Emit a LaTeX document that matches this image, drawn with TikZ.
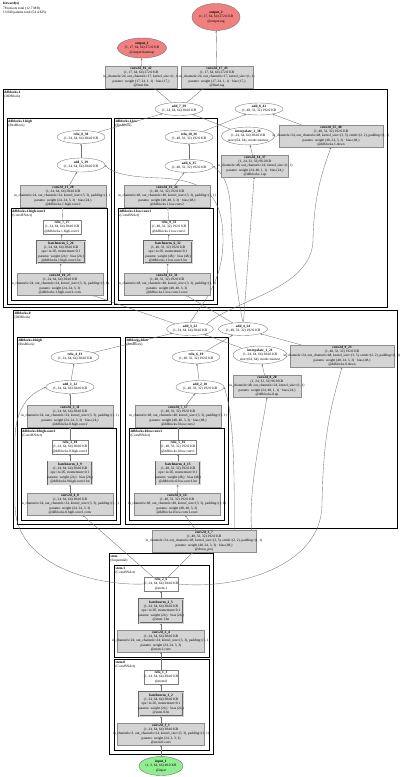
\documentclass[tikz,border=0pt]{standalone}
\usepackage{fontspec}
\setmainfont{Liberation Serif}
\usetikzlibrary{shapes.geometric,arrows.meta}
\definecolor{lcoral}{RGB}{240,128,128}
\definecolor{lgreen}{RGB}{144,238,144}
\pgfdeclarelayer{bg}
\pgfsetlayers{bg,main}
\newcommand\NL[1]{\hbox to 0pt{\hss\strut #1\hss}}
\newcommand\FL[1]{\hbox{\strut #1}}
\newcommand\BX[6]{\node[#1,minimum width=#4,minimum height=#5] (#2) at #3 {\vbox{#6}};}
\newcommand\FR[5]{\draw[#1] #2 rectangle #3; \node[flab,xshift=1.5pt,yshift=-1.2pt] (#4) at #2 {\vbox{#5}};}
\begin{document}
\begin{tikzpicture}[x=1pt,y=-1pt,
 base/.style={font=\fontsize{3.5}{4.2}\selectfont,inner sep=0pt,outer sep=0pt},
 gbox/.style={base,rectangle,draw=black!45,fill=black!17,line width=0.4pt},
 wbox/.style={base,rectangle,draw=black!50,fill=white,line width=0.4pt},
 bnbox/.style={base,rectangle,draw=black!60,fill=black!17,double=black!17,double distance=0.7pt,line width=0.35pt},
 op/.style={base,ellipse,draw=black!50,fill=white,line width=0.4pt},
 outp/.style={op,fill=lcoral,draw=black!55},
 inp/.style={op,fill=lgreen,draw=black!55},
 e/.style={draw=black!55,line width=0.35pt,-{Stealth[length=2.2pt,width=1.8pt]}},
 blk/.style={draw=black,line width=1pt},
 sub/.style={draw=black,line width=0.7pt},
 inn/.style={draw=black,line width=0.55pt},
 flab/.style={base,anchor=north west},
 hdr/.style={base,anchor=north west}]
\useasboundingbox (0,0) rectangle (400,777);

% header
\node[hdr] (hdr) at (3,2) {\vbox{\FL{\textbf{forward(x)}}\FL{78 tensors total (12.7 MB)}\FL{13,940 params total (54.4 KB)}}};

% ---------- frames ----------
\begin{pgfonlayer}{bg}
\FR{blk}{(3,89)}{(387,307)}{f1}{\FL{\textbf{ddblocks.1}}\FL{(DDBlock)}}
\FR{sub}{(7,118)}{(111,304)}{f1h}{\FL{\textbf{ddblocks.1.high}}\FL{(ResBlock)}}
\FR{inn}{(11,208)}{(107,300)}{f1hc}{\FL{\textbf{ddblocks.1.high.conv1}}\FL{(ConvBNAct)}}
\FR{sub}{(114,118)}{(217,304)}{f1l}{\FL{\textbf{ddblocks.1.low}}\FL{(ResBlock)}}
\FR{inn}{(118,208)}{(213,300)}{f1lc}{\FL{\textbf{ddblocks.1.low.conv1}}\FL{(ConvBNAct)}}
\FR{blk}{(13,310)}{(397,528)}{f0}{\FL{\textbf{ddblocks.0}}\FL{(DDBlock)}}
\FR{sub}{(17,337)}{(120,524)}{f0h}{\FL{\textbf{ddblocks.0.high}}\FL{(ResBlock)}}
\FR{inn}{(21,428)}{(116,520)}{f0hc}{\FL{\textbf{ddblocks.0.high.conv1}}\FL{(ConvBNAct)}}
\FR{sub}{(125,337)}{(228,524)}{f0l}{\FL{\textbf{ddblocks.0.low}}\FL{(ResBlock)}}
\FR{inn}{(129,428)}{(224,520)}{f0lc}{\FL{\textbf{ddblocks.0.low.conv1}}\FL{(ConvBNAct)}}
\FR{blk}{(109,553)}{(213,754)}{fs}{\FL{\textbf{stem}}\FL{(Sequential)}}
\FR{sub}{(114,565)}{(209,657)}{fs1}{\FL{\textbf{stem.1}}\FL{(ConvBNAct)}}
\FR{sub}{(114,659)}{(209,750)}{fs0}{\FL{\textbf{stem.0}}\FL{(ConvBNAct)}}
\end{pgfonlayer}

% ---------- top ----------
\BX{outp}{o2}{(216,17)}{48}{27}{\NL{\textbf{output\_2}}\NL{(1, 17, 64, 64) 272.0 KB}\NL{@output.tag}}
\BX{outp}{o1}{(142,48)}{49}{20}{\NL{\textbf{output\_1}}\NL{(1, 17, 64, 64) 272.0 KB}\NL{@output.heatmap}}
\BX{gbox}{c16}{(141,77)}{72}{22}{\NL{\textbf{conv2d\_16\_42}}\NL{(1, 17, 64, 64) 272.0 KB}\NL{in\_channels=24, out\_channels=17, kernel\_size=(1, 1)}\NL{params: weight (17, 24, 1, 1) · bias (17,)}\NL{@final.hm}}
\BX{gbox}{c17}{(217,77)}{72}{22}{\NL{\textbf{conv2d\_17\_43}}\NL{(1, 17, 64, 64) 272.0 KB}\NL{in\_channels=24, out\_channels=17, kernel\_size=(1, 1)}\NL{params: weight (17, 24, 1, 1) · bias (17,)}\NL{@final.tag}}

% ---------- block 1 ----------
\BX{op}{a7}{(179,109)}{48}{13}{\NL{\textbf{add\_7\_39}}\NL{(1, 24, 64, 64) 384.0 KB}}
\BX{op}{a8}{(259,109)}{48}{12}{\NL{\textbf{add\_8\_41}}\NL{(1, 48, 32, 32) 192.0 KB}}
\BX{op}{r8}{(81,137)}{48}{13}{\NL{\textbf{relu\_8\_30}}\NL{(1, 24, 64, 64) 384.0 KB}}
\BX{op}{a5}{(81,165)}{48}{14}{\NL{\textbf{add\_5\_29}}\NL{(1, 24, 64, 64) 384.0 KB}}
\BX{gbox}{c11}{(63,196)}{86}{22}{\NL{\textbf{conv2d\_11\_28}}\NL{(1, 24, 64, 64) 384.0 KB}\NL{in\_channels=24, out\_channels=24, kernel\_size=(3, 3), padding=(1, 1)}\NL{params: weight (24, 24, 3, 3) · bias (24,)}\NL{@ddblocks.1.high.conv2}}
\BX{wbox}{r7}{(62,227)}{38}{14}{\NL{\textbf{relu\_7\_27}}\NL{(1, 24, 64, 64) 384.0 KB}\NL{@ddblocks.1.high.conv1}}
\BX{bnbox}{bn5}{(61,252)}{48}{22}{\NL{\textbf{batchnorm\_5\_26}}\NL{(1, 24, 64, 64) 384.0 KB}\NL{eps=1e-05, momentum=0.1}\NL{params: weight (24,) · bias (24,)}\NL{@ddblocks.1.high.conv1.bn}}
\BX{gbox}{c10}{(60,284)}{86}{22}{\NL{\textbf{conv2d\_10\_25}}\NL{(1, 24, 64, 64) 384.0 KB}\NL{in\_channels=24, out\_channels=24, kernel\_size=(3, 3), padding=(1, 1)}\NL{params: weight (24, 24, 3, 3)}\NL{@ddblocks.1.high.conv1.conv}}

\BX{op}{r10}{(189,137)}{48}{13}{\NL{\textbf{relu\_10\_36}}\NL{(1, 48, 32, 32) 192.0 KB}}
\BX{op}{a6}{(189,166)}{48}{13}{\NL{\textbf{add\_6\_35}}\NL{(1, 48, 32, 32) 192.0 KB}}
\BX{gbox}{c13}{(167,196)}{86}{22}{\NL{\textbf{conv2d\_13\_34}}\NL{(1, 48, 32, 32) 192.0 KB}\NL{in\_channels=48, out\_channels=48, kernel\_size=(3, 3), padding=(1, 1)}\NL{params: weight (48, 48, 3, 3) · bias (48,)}\NL{@ddblocks.1.low.conv2}}
\BX{wbox}{r9}{(169,227)}{38}{14}{\NL{\textbf{relu\_9\_33}}\NL{(1, 48, 32, 32) 192.0 KB}\NL{@ddblocks.1.low.conv1}}
\BX{bnbox}{bn6}{(168,252)}{48}{22}{\NL{\textbf{batchnorm\_6\_32}}\NL{(1, 48, 32, 32) 192.0 KB}\NL{eps=1e-05, momentum=0.1}\NL{params: weight (48,) · bias (48,)}\NL{@ddblocks.1.low.conv1.bn}}
\BX{gbox}{c12}{(167,284)}{86}{22}{\NL{\textbf{conv2d\_12\_31}}\NL{(1, 48, 32, 32) 192.0 KB}\NL{in\_channels=48, out\_channels=48, kernel\_size=(3, 3), padding=(1, 1)}\NL{params: weight (48, 48, 3, 3)}\NL{@ddblocks.1.low.conv1.conv}}

\BX{op}{i2}{(248,136)}{53}{17}{\NL{\textbf{interpolate\_2\_38}}\NL{(1, 24, 64, 64) 384.0 KB}\NL{size=(64, 64), mode=nearest}}
\BX{gbox}{c14}{(255,166)}{67}{22}{\NL{\textbf{conv2d\_14\_37}}\NL{(1, 24, 32, 32) 96.0 KB}\NL{in\_channels=48, out\_channels=24, kernel\_size=(1, 1)}\NL{params: weight (24, 48, 1, 1) · bias (24,)}\NL{@ddblocks.1.up}}
\BX{gbox}{c15}{(331,136)}{104}{22}{\NL{\textbf{conv2d\_15\_40}}\NL{(1, 48, 32, 32) 192.0 KB}\NL{in\_channels=24, out\_channels=48, kernel\_size=(3, 3), stride=(2, 2), padding=(1, 1)}\NL{params: weight (48, 24, 3, 3) · bias (48,)}\NL{@ddblocks.1.down}}

% ---------- block 0 ----------
\BX{op}{a3}{(190,329)}{47}{13}{\NL{\textbf{add\_3\_22}}\NL{(1, 24, 64, 64) 384.0 KB}}
\BX{op}{a4}{(243,329)}{49}{13}{\NL{\textbf{add\_4\_24}}\NL{(1, 48, 32, 32) 192.0 KB}}
\BX{op}{r4}{(75,357)}{48}{13}{\NL{\textbf{relu\_4\_13}}\NL{(1, 24, 64, 64) 384.0 KB}}
\BX{op}{a1}{(70,387)}{48}{13}{\NL{\textbf{add\_1\_12}}\NL{(1, 24, 64, 64) 384.0 KB}}
\BX{gbox}{c5}{(70,416)}{86}{22}{\NL{\textbf{conv2d\_5\_11}}\NL{(1, 24, 64, 64) 384.0 KB}\NL{in\_channels=24, out\_channels=24, kernel\_size=(3, 3), padding=(1, 1)}\NL{params: weight (24, 24, 3, 3) · bias (24,)}\NL{@ddblocks.0.high.conv2}}
\BX{wbox}{r3}{(70,447)}{36}{14}{\NL{\textbf{relu\_3\_10}}\NL{(1, 24, 64, 64) 384.0 KB}\NL{@ddblocks.0.high.conv1}}
\BX{bnbox}{bn3}{(70,473)}{44}{23}{\NL{\textbf{batchnorm\_3\_9}}\NL{(1, 24, 64, 64) 384.0 KB}\NL{eps=1e-05, momentum=0.1}\NL{params: weight (24,) · bias (24,)}\NL{@ddblocks.0.high.conv1.bn}}
\BX{gbox}{c4}{(70,504)}{86}{22}{\NL{\textbf{conv2d\_4\_8}}\NL{(1, 24, 64, 64) 384.0 KB}\NL{in\_channels=24, out\_channels=24, kernel\_size=(3, 3), padding=(1, 1)}\NL{params: weight (24, 24, 3, 3)}\NL{@ddblocks.0.high.conv1.conv}}

\BX{op}{r6}{(196,357)}{48}{13}{\NL{\textbf{relu\_6\_19}}\NL{(1, 48, 32, 32) 192.0 KB}}
\BX{op}{a2}{(200,387)}{48}{13}{\NL{\textbf{add\_2\_18}}\NL{(1, 48, 32, 32) 192.0 KB}}
\BX{gbox}{c7}{(178,416)}{86}{22}{\NL{\textbf{conv2d\_7\_17}}\NL{(1, 48, 32, 32) 192.0 KB}\NL{in\_channels=48, out\_channels=48, kernel\_size=(3, 3), padding=(1, 1)}\NL{params: weight (48, 48, 3, 3) · bias (48,)}\NL{@ddblocks.0.low.conv2}}
\BX{wbox}{r5}{(178,447)}{36}{14}{\NL{\textbf{relu\_5\_16}}\NL{(1, 48, 32, 32) 192.0 KB}\NL{@ddblocks.0.low.conv1}}
\BX{bnbox}{bn4}{(178,473)}{44}{23}{\NL{\textbf{batchnorm\_4\_15}}\NL{(1, 48, 32, 32) 192.0 KB}\NL{eps=1e-05, momentum=0.1}\NL{params: weight (48,) · bias (48,)}\NL{@ddblocks.0.low.conv1.bn}}
\BX{gbox}{c6}{(177,504)}{86}{22}{\NL{\textbf{conv2d\_6\_14}}\NL{(1, 48, 32, 32) 192.0 KB}\NL{in\_channels=48, out\_channels=48, kernel\_size=(3, 3), padding=(1, 1)}\NL{params: weight (48, 48, 3, 3)}\NL{@ddblocks.0.low.conv1.conv}}

\BX{op}{i1}{(260,355)}{54}{17}{\NL{\textbf{interpolate\_1\_21}}\NL{(1, 24, 64, 64) 384.0 KB}\NL{size=(64, 64), mode=nearest}}
\BX{gbox}{c8}{(267,386)}{68}{22}{\NL{\textbf{conv2d\_8\_20}}\NL{(1, 24, 32, 32) 96.0 KB}\NL{in\_channels=48, out\_channels=24, kernel\_size=(1, 1)}\NL{params: weight (24, 48, 1, 1) · bias (24,)}\NL{@ddblocks.0.up}}
\BX{gbox}{c9}{(342,356)}{104}{22}{\NL{\textbf{conv2d\_9\_23}}\NL{(1, 48, 32, 32) 192.0 KB}\NL{in\_channels=24, out\_channels=48, kernel\_size=(3, 3), stride=(2, 2), padding=(1, 1)}\NL{params: weight (48, 24, 3, 3) · bias (48,)}\NL{@ddblocks.0.down}}

% ---------- transition + stem ----------
\BX{gbox}{c3}{(204,541)}{104}{22}{\NL{\textbf{conv2d\_3\_7}}\NL{(1, 48, 32, 32) 192.0 KB}\NL{in\_channels=24, out\_channels=48, kernel\_size=(3, 3), stride=(2, 2), padding=(1, 1)}\NL{params: weight (48, 24, 3, 3) · bias (48,)}\NL{@down\_proj}}
\BX{wbox}{r2}{(161,584)}{34}{14}{\NL{\textbf{relu\_2\_6}}\NL{(1, 24, 64, 64) 384.0 KB}\NL{@stem.1}}
\BX{bnbox}{bn2}{(161,611)}{44}{24}{\NL{\textbf{batchnorm\_2\_5}}\NL{(1, 24, 64, 64) 384.0 KB}\NL{eps=1e-05, momentum=0.1}\NL{params: weight (24,) · bias (24,)}\NL{@stem.1.bn}}
\BX{gbox}{c2}{(161,641)}{87}{22}{\NL{\textbf{conv2d\_2\_4}}\NL{(1, 24, 64, 64) 384.0 KB}\NL{in\_channels=24, out\_channels=24, kernel\_size=(3, 3), padding=(1, 1)}\NL{params: weight (24, 24, 3, 3)}\NL{@stem.1.conv}}
\BX{wbox}{r1}{(161,677)}{34}{14}{\NL{\textbf{relu\_1\_3}}\NL{(1, 24, 64, 64) 384.0 KB}\NL{@stem.0}}
\BX{bnbox}{bn1}{(161,704)}{44}{24}{\NL{\textbf{batchnorm\_1\_2}}\NL{(1, 24, 64, 64) 384.0 KB}\NL{eps=1e-05, momentum=0.1}\NL{params: weight (24,) · bias (24,)}\NL{@stem.0.bn}}
\BX{gbox}{c1}{(161,734)}{87}{22}{\NL{\textbf{conv2d\_1\_1}}\NL{(1, 24, 64, 64) 384.0 KB}\NL{in\_channels=3, out\_channels=24, kernel\_size=(3, 3), padding=(1, 1)}\NL{params: weight (24, 3, 3, 3)}\NL{@stem.0.conv}}
\BX{inp}{in1}{(161,766)}{44}{19}{\NL{\textbf{input\_1}}\NL{(1, 3, 64, 64) 48.0 KB}\NL{@input}}

% ---------- edges ----------
\begin{pgfonlayer}{bg}
% stem
\draw[e] (in1) -- (c1);
\draw[e] (c1) -- (bn1);
\draw[e] (bn1) -- (r1);
\draw[e] (r1) -- (c2);
\draw[e] (c2) -- (bn2);
\draw[e] (bn2) -- (r2);
\draw[e] (r2) -- (c3);
\draw[e] (r2) -- (c4);
\draw[e] (r2.west) .. controls (95,586) and (15,565) .. (15,505) -- (15,440) .. controls (15,405) and (32,393) .. (a1.west);
\draw[e] (r2.east) .. controls (240,590) and (321,565) .. (322,505) .. controls (323,430) and (333,400) .. (c9.south);
% block 0 high
\draw[e] (c4) -- (bn3);
\draw[e] (bn3) -- (r3);
\draw[e] (r3) -- (c5);
\draw[e] (c5) -- (a1);
\draw[e] (a1) -- (r4);
\draw[e] (r4) -- (a3);
% block 0 low
\draw[e] (c3) -- (c6);
\draw[e] (c6) -- (bn4);
\draw[e] (bn4) -- (r5);
\draw[e] (r5) -- (c7);
\draw[e] (c7) -- (a2);
\draw[e] (a2) -- (r6);
\draw[e] (r6) -- (a4);
\draw[e] (c3.20) .. controls (234,505) and (236,420) .. (a2.east);
\draw[e] (c3.13) .. controls (248,490) and (262,430) .. (c8.south);
\draw[e] (c8) -- (i1);
\draw[e] (i1) -- (a3);
\draw[e] (c9) -- (a4);
% block 0 -> block 1
\draw[e] (a3) -- (c10);
\draw[e] (a4) -- (c12);
\draw[e] (a4) -- (c14);
\draw[e] (a3.north) .. controls (205,300) and (223,280) .. (223,240) .. controls (223,195) and (205,180) .. (160,178) .. controls (128,177) and (112,173) .. (a5.east);
\draw[e] (a4.north) .. controls (236,290) and (232,250) .. (231,215) .. controls (230,190) and (226,176) .. (a6.east);
\draw[e] (a3.north east) .. controls (232,300) and (312,290) .. (313,240) .. controls (314,190) and (325,165) .. (c15.south);
% block 1 high
\draw[e] (c10) -- (bn5);
\draw[e] (bn5) -- (r7);
\draw[e] (r7) -- (c11);
\draw[e] (c11) -- (a5);
\draw[e] (a5) -- (r8);
\draw[e] (r8) -- (a7);
% block 1 low
\draw[e] (c12) -- (bn6);
\draw[e] (bn6) -- (r9);
\draw[e] (r9) -- (c13);
\draw[e] (c13) -- (a6);
\draw[e] (a6) -- (r10);
\draw[e] (r10) -- (a8);
% fusion 1
\draw[e] (c14) -- (i2);
\draw[e] (i2) -- (a7);
\draw[e] (c15) -- (a8);
% heads
\draw[e] (a7) -- (c16);
\draw[e] (a7) -- (c17);
\draw[e] (c16) -- (o1);
\draw[e] (c17) -- (o2);
\end{pgfonlayer}
\end{tikzpicture}
\end{document}
